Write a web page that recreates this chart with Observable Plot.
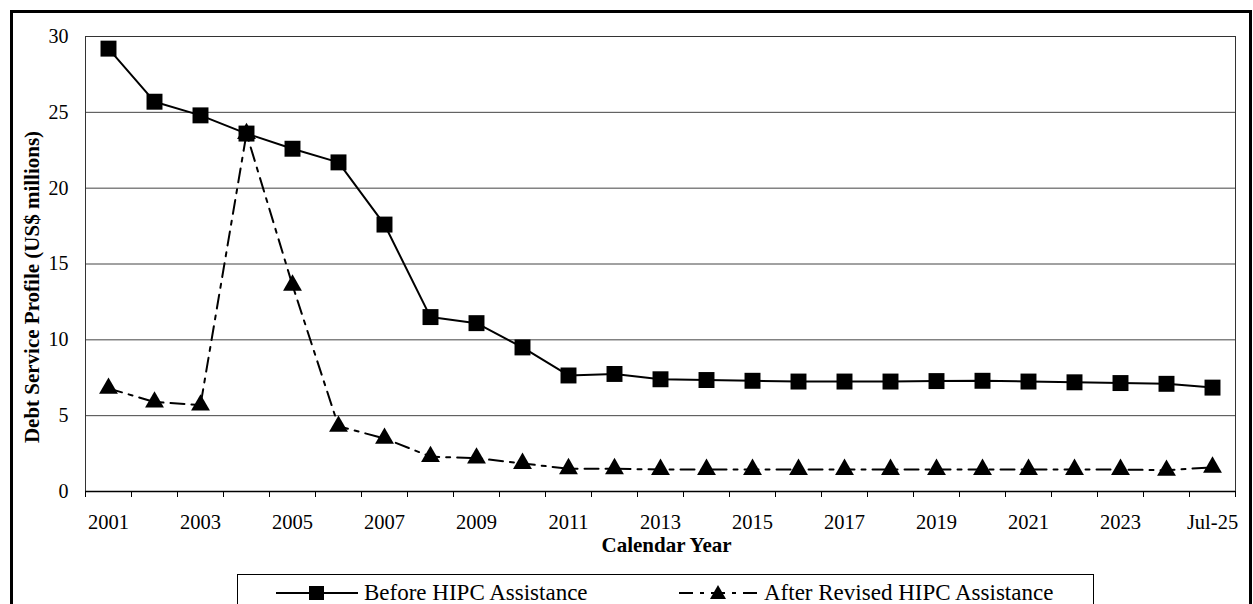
<!DOCTYPE html>
<html>
<head>
<meta charset="utf-8">
<script src="https://cdn.jsdelivr.net/npm/d3@7"></script>
<script src="https://cdn.jsdelivr.net/npm/@observablehq/plot@0.6"></script>
<style>
  html, body { margin: 0; padding: 0; background: white; overflow: hidden; }
  #wrap { position: relative; width: 1253px; height: 604px; overflow: hidden; background: white; font-family: "Liberation Serif", "Times New Roman", serif; }
  #chart { position: absolute; left: 0; top: 0; }
  #chart svg { max-width: none; }
  #outer { position: absolute; left: 10px; top: 10px; width: 1236px; height: 700px; border: 3px solid #000; pointer-events: none; }
  #legend { position: absolute; left: 237px; top: 574px; width: 855px; height: 60px; border: 1px solid #000; background: white; }
  .item { position: absolute; top: 0; height: 36px; display: flex; align-items: center; font-size: 23px; color: #000; white-space: nowrap; }
  .item svg { display: block; margin-right: 4px; }
</style>
</head>
<body>
<div id="wrap">
  <div id="chart"></div>
  <div id="legend">
    <div class="item" style="left:38px">
      <svg width="84" height="20" viewBox="0 0 84 20"><line x1="0" y1="10" x2="82" y2="10" stroke="#000" stroke-width="2"/><rect x="33" y="3" width="15" height="14" fill="#000"/></svg>
      <span>Before HIPC Assistance</span>
    </div>
    <div class="item" style="left:438px">
      <svg width="84" height="20" viewBox="0 0 84 20"><line x1="0" y1="10" x2="82" y2="10" stroke="#000" stroke-width="2" stroke-dasharray="14,7,4,7" stroke-dashoffset="-3"/><path d="M42,2 L50,16 L34,16 Z" fill="#000"/></svg>
      <span>After Revised HIPC Assistance</span>
    </div>
  </div>
  <div id="outer"></div>
</div>
<script>
const categories = ["2001","2002","2003","2004","2005","2006","2007","2008","2009","2010","2011","2012","2013","2014","2015","2016","2017","2018","2019","2020","2021","2022","2023","2024","Jul-25"];
const beforeHIPC = [29.2, 25.7, 24.8, 23.6, 22.6, 21.7, 17.6, 11.5, 11.1, 9.5, 7.65, 7.75, 7.4, 7.35, 7.3, 7.25, 7.25, 7.25, 7.28, 7.3, 7.25, 7.2, 7.15, 7.1, 6.85];
const afterHIPC = [6.8, 5.9, 5.7, 23.6, 13.6, 4.3, 3.5, 2.3, 2.2, 1.85, 1.5, 1.5, 1.45, 1.45, 1.45, 1.45, 1.45, 1.45, 1.45, 1.45, 1.45, 1.45, 1.45, 1.4, 1.6];
const yTicks = [0, 5, 10, 15, 20, 25, 30];
const gridTicks = [5, 10, 15, 20, 25];
const labelEvery = 2;

const idx = categories.map((_, i) => i);
const labelIdx = idx.filter(i => i % labelEvery === 0);
const edges = [...idx.map(i => i - 0.5), categories.length - 0.5];
const before = categories.map((c, i) => ({i, c, v: beforeHIPC[i]}));
const after = categories.map((c, i) => ({i, c, v: afterHIPC[i]}));

const font = "'Liberation Serif', 'Times New Roman', serif";

const plot = Plot.plot({
  width: 1253,
  height: 560,
  marginLeft: 85,
  marginRight: 18,
  marginTop: 36,
  marginBottom: 69,
  style: {fontFamily: font, fontSize: "20px", color: "#000", background: "transparent"},
  x: {type: "linear", domain: [-0.5, categories.length - 0.5]},
  y: {domain: [0, 30]},
  marks: [
    Plot.gridY(gridTicks, {stroke: "#444", strokeOpacity: 1, strokeWidth: 1}),
    Plot.frame({stroke: "#333", strokeWidth: 1}),
    Plot.axisY({ticks: yTicks, tickSize: 0, tickPadding: 17, label: null, fontSize: 20}),
    Plot.axisX({ticks: edges, tickSize: 6, tickFormat: () => "", label: null, stroke: "#000"}),
    Plot.axisX({ticks: labelIdx, tickSize: 0, tickPadding: 23, tickFormat: i => categories[i], label: null, fontSize: 20.5}),
    Plot.ruleY([0], {stroke: "#000", strokeWidth: 1.5}),
    Plot.text(["Calendar Year"], {frameAnchor: "bottom", dx: 6, dy: 54, fontWeight: "bold", fontSize: 21, lineAnchor: "middle"}),
    Plot.text(["Debt Service Profile (US$ millions)"], {frameAnchor: "left", dx: -53, dy: 23, rotate: -90, fontWeight: "bold", fontSize: 21, lineAnchor: "middle", textAnchor: "middle"}),
    Plot.line(before, {x: "i", y: "v", stroke: "#000", strokeWidth: 2}),
    Plot.line(after, {x: "i", y: "v", stroke: "#000", strokeWidth: 2, strokeDasharray: "14,7,4,7"}),
    Plot.dot(before, {x: "i", y: "v", symbol: "square", r: 9, fill: "#000", stroke: "none"}),
    Plot.dot(after, {x: "i", y: "v", symbol: "triangle", r: 7, fill: "#000", stroke: "none"})
  ]
});
document.getElementById("chart").appendChild(plot);
</script>
</body>
</html>
